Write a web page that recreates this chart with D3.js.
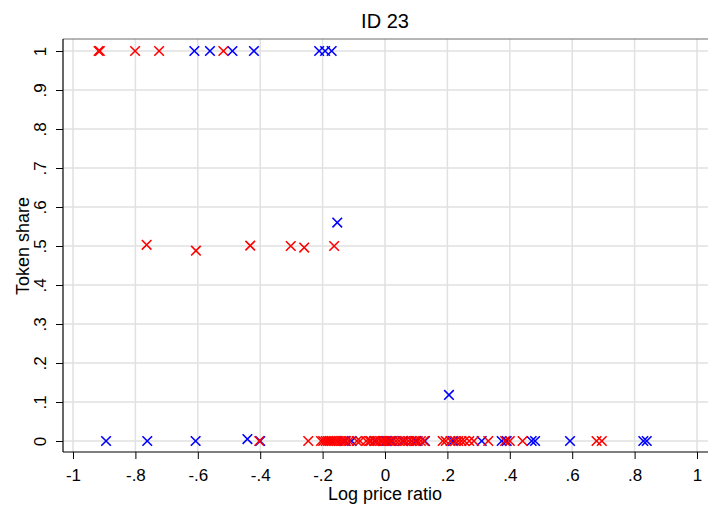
<!DOCTYPE html>
<html>
<head>
<meta charset="utf-8">
<script src="https://cdn.jsdelivr.net/npm/d3@7"></script>
<style>
  html, body { margin: 0; padding: 0; background: #fff; }
  svg { display: block; font-family: "Liberation Sans", Arial, sans-serif; }
</style>
</head>
<body>
<svg id="chart" width="708" height="508"></svg>
<script>
// ---- data ----
const title = "ID 23";
const xLabel = "Log price ratio";
const yLabel = "Token share";
const xTicks = [-1, -0.8, -0.6, -0.4, -0.2, 0, 0.2, 0.4, 0.6, 0.8, 1];
const yTicks = [0, 0.1, 0.2, 0.3, 0.4, 0.5, 0.6, 0.7, 0.8, 0.9, 1];

const redX = [
  -0.918, -0.914, -0.801, -0.724, -0.518,
  -0.764, -0.606, -0.432, -0.302, -0.259, -0.163,
  -0.403, -0.246, -0.205, -0.198, -0.19, -0.183, -0.176, -0.17, -0.163, -0.155,
  -0.148, -0.14, -0.133, -0.125, -0.115, -0.09, -0.08, -0.06, -0.05, -0.045,
  -0.035, -0.025, -0.015, -0.008, 0.0, 0.008, 0.015, 0.025, 0.035, 0.045, 0.055,
  0.065, 0.075, 0.085, 0.095, 0.105, 0.115, 0.125, 0.185, 0.195, 0.21, 0.225,
  0.235, 0.245, 0.255, 0.27, 0.285, 0.331, 0.385, 0.4, 0.441, 0.678, 0.695, 0.812
];
const redY = [
  1, 1, 1, 1, 1,
  0.503, 0.488, 0.501, 0.5, 0.496, 0.5,
  0, 0, 0, 0, 0, 0, 0, 0, 0, 0,
  0, 0, 0, 0, 0, 0, 0, 0, 0, 0,
  0, 0, 0, 0, 0, 0, 0, 0, 0, 0, 0,
  0, 0, 0, 0, 0, 0, 0, 0, 0, 0, 0,
  0, 0, 0, 0, 0, 0, 0, 0, 0, 0, 0
];

const blueX = [
  -0.611, -0.561, -0.489, -0.42, -0.211, -0.192, -0.171,
  -0.153, 0.205,
  -0.894, -0.762, -0.607, -0.441, -0.40, -0.128, -0.107, -0.032, 0.005, 0.021,
  0.058, 0.085, 0.1, 0.128, 0.218, 0.31, 0.374, 0.39, 0.47, 0.481, 0.593, 0.828, 0.839
];
const blueY = [
  1, 1, 1, 1, 1, 1, 1,
  0.56, 0.118,
  0, 0, 0, 0.005, 0, 0, 0, 0, 0, 0,
  0, 0, 0, 0, 0, 0, 0, 0, 0, 0, 0, 0, 0
];

// ---- drawing ----
const svg = d3.select("#chart");
const x = d3.scaleLinear().domain([-1, 1]).range([73, 697]);
const y = d3.scaleLinear().domain([0, 1]).range([441, 51]);
const fmt = d => d === 0 ? "0" : String(+d.toFixed(1)).replace("0.", ".");

const plotLeft = 63, plotTop = 39, plotBottom = 452, plotRight = 708;
const FONT = "'Liberation Sans', Arial, sans-serif";

// gridlines
svg.append("g").selectAll("line").data(xTicks).join("line")
  .attr("x1", d => x(d)).attr("x2", d => x(d))
  .attr("y1", plotTop).attr("y2", plotBottom)
  .attr("stroke", "#e1e1e1").attr("stroke-width", 1.5);
svg.append("g").selectAll("line").data(yTicks).join("line")
  .attr("x1", plotLeft).attr("x2", plotRight)
  .attr("y1", d => y(d)).attr("y2", d => y(d))
  .attr("stroke", "#e1e1e1").attr("stroke-width", 1.5);

// top border
svg.append("line").attr("x1", plotLeft).attr("x2", plotRight)
  .attr("y1", plotTop).attr("y2", plotTop)
  .attr("stroke", "#6e6e6e").attr("stroke-width", 1.2);

// axes
const xAxis = d3.axisBottom(x).tickValues(xTicks).tickFormat(fmt).tickSize(7);
const gx = svg.append("g").attr("transform", `translate(0,${plotBottom})`).call(xAxis);
gx.select(".domain").remove();
gx.append("line").attr("x1", plotLeft).attr("x2", plotRight).attr("y1", 0).attr("y2", 0)
  .attr("stroke", "#000").attr("stroke-width", 1.2);
gx.selectAll(".tick line").attr("stroke", "#000").attr("stroke-width", 1);
gx.selectAll(".tick text").attr("font-size", 17).attr("fill", "#000")
  .attr("font-family", FONT).attr("dy", null).attr("y", 29);

const yAxis = d3.axisLeft(y).tickValues(yTicks).tickFormat(fmt).tickSize(7);
const gy = svg.append("g").attr("transform", `translate(${plotLeft},0)`).call(yAxis);
gy.select(".domain").remove();
gy.append("line").attr("x1", 0).attr("x2", 0).attr("y1", plotTop).attr("y2", plotBottom)
  .attr("stroke", "#000").attr("stroke-width", 1.2);
gy.selectAll(".tick line").attr("stroke", "#000").attr("stroke-width", 1);
gy.selectAll(".tick text")
  .attr("font-size", 17).attr("fill", "#000")
  .attr("font-family", FONT)
  .attr("text-anchor", "middle")
  .attr("dy", null)
  .attr("x", null)
  .attr("transform", "translate(-23,0) rotate(-90)")
  .attr("dominant-baseline", "central");

// titles
svg.append("text").attr("x", 385).attr("y", 28).attr("text-anchor", "middle")
  .attr("font-size", 20).attr("fill", "#000").text(title);
svg.append("text").attr("x", 385).attr("y", 500).attr("text-anchor", "middle")
  .attr("font-size", 18).attr("fill", "#000").text(xLabel);
svg.append("text").attr("transform", `translate(29,${y(0.5)}) rotate(-90)`)
  .attr("text-anchor", "middle").attr("font-size", 18).attr("fill", "#000").text(yLabel);

// markers
const r = 4.8;
function drawX(g, xs, ys, color) {
  const pts = xs.map((v, i) => [v, ys[i]]);
  g.selectAll("path").data(pts).join("path")
    .attr("d", d => {
      const cx = x(d[0]), cy = y(d[1]);
      return `M${cx - r},${cy - r}L${cx + r},${cy + r}M${cx - r},${cy + r}L${cx + r},${cy - r}`;
    })
    .attr("stroke", color).attr("stroke-width", 1.6).attr("fill", "none");
}
drawX(svg.append("g"), blueX, blueY, "#0000ff");
drawX(svg.append("g"), redX, redY, "#ff0000");
</script>
</body>
</html>
